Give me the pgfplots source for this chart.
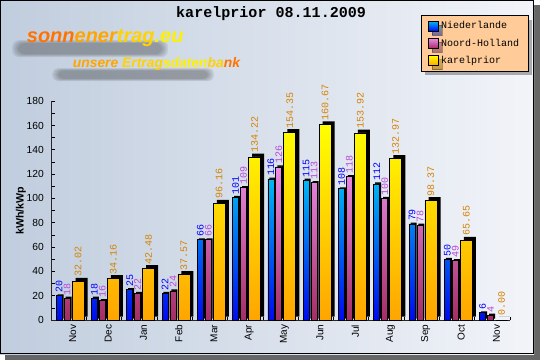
\documentclass[border=0pt]{standalone}
\usepackage{pgfplots}
\pgfplotsset{compat=1.18}
\usepackage{pgfplotstable}
\usepackage{fontspec}
\setmainfont{Liberation Sans}
\newfontfamily\monof{Liberation Mono}
\usetikzlibrary{shadows}

\definecolor{bgL}{RGB}{192,205,222}
\definecolor{bgR}{RGB}{242,244,249}
\definecolor{bluT}{RGB}{0,185,245}
\definecolor{bluB}{RGB}{0,10,240}
\definecolor{pnkT}{RGB}{235,140,230}
\definecolor{pnkB}{RGB}{165,45,100}
\definecolor{yelT}{RGB}{255,255,0}
\definecolor{yelB}{RGB}{255,165,0}
\definecolor{lblB}{RGB}{0,0,255}
\definecolor{lblP}{RGB}{185,70,220}
\definecolor{lblO}{RGB}{215,130,0}
\definecolor{peach}{RGB}{255,204,153}
\definecolor{lgO1}{RGB}{255,115,0}
\definecolor{lgO2}{RGB}{255,165,0}
\definecolor{lgO3}{RGB}{255,210,0}
\definecolor{lgO4}{RGB}{255,240,0}

\pgfplotstableread{
m nl nh kp
0 20 18 32.02
1 18 16 34.16
2 25 22 42.48
3 22 24 37.57
4 66 66 96.16
5 101 109 134.22
6 116 126 154.35
7 115 113 160.67
8 108 118 153.92
9 112 100 132.97
10 79 78 98.37
11 50 49 65.65
12 6 4 0.00
}\data

\begin{document}
\begin{tikzpicture}[x=0.75pt,y=0.75pt]
% frame and background
\fill[black!60] (5,0) rectangle (540,355);
\shade[left color=bgL,right color=bgR] (0,6) rectangle (534,360);
\draw[black,line width=0.9pt] (0.4,6.4) rectangle (533.6,359.6);
% title
\node[font=\monof\bfseries\fontsize{11.3}{12}\selectfont] at (271,347) {karelprior 08.11.2009};
% logo shadows (blurred smudges)
\foreach \e in {0,1.5,3,4.5,6}{
  \fill[black!80,opacity=0.09,rounded corners=5pt] (12+\e,303+\e*0.5) rectangle (168-\e,320-\e*0.5);
  \fill[black!80,opacity=0.09,rounded corners=4pt] (52+\e,279+\e*0.4) rectangle (214-\e,292-\e*0.4);
}
\node[anchor=west,font=\bfseries\itshape\fontsize{15}{15}\selectfont] at (22,322)
  {\textcolor{lgO1}{sonn}\textcolor{lgO2}{ener}\textcolor{lgO3}{trag}\textcolor{lgO4}{.eu}};
\node[anchor=west,font=\bfseries\itshape\fontsize{10.4}{11}\selectfont] at (68,296)
  {\textcolor{lgO2}{unsere} \textcolor{lgO3}{Ertrag}\textcolor{lgO4}{sdaten}\textcolor{lgO3}{ba}\textcolor{lgO1}{nk}};

\begin{axis}[
  at={(38.25pt,30pt)}, anchor=south west, scale only axis,
  width=344.25pt, height=164.25pt,
  ybar,
  xmin=-0.5, xmax=12.5, ymin=0, ymax=180,
  enlarge x limits=false, enlarge y limits=false,
  axis x line*=bottom, axis y line*=left,
  axis line style={-,line width=0.8pt,black!85},
  xtick={0,...,12},
  xticklabels={Nov,Dec,Jan,Feb,Mar,Apr,May,Jun,Jul,Aug,Sep,Oct,Nov},
  minor xtick={0.5,1.5,...,12.5},
  major x tick style={draw=none},
  ytick={0,20,...,180},
  minor y tick num=1,
  tick align=inside,
  major tick length=2.5pt, minor tick length=2.5pt,
  tick style={black,line width=0.6pt},
  xticklabel style={rotate=90,anchor=east,font=\fontsize{7.5}{8}\selectfont,yshift=-3pt},
  yticklabel style={font=\fontsize{7.7}{8}\selectfont,xshift=-2pt},
  /pgf/number format/assume math mode=true,
  ylabel={\bfseries kWh/kWp},
  ylabel style={at={(axis description cs:-0.066,0.5)},anchor=center,font=\fontsize{8}{9}\selectfont},
  legend style={at={(1.041,1.393)},anchor=north east,fill=peach,draw=black,line width=0.6pt,
    font=\monof\fontsize{7.5}{9}\selectfont,row sep=2pt,inner xsep=5pt,inner ysep=2.5pt,
    drop shadow={shadow xshift=3pt,shadow yshift=-3pt,fill=black,opacity=0.3}},
  legend cell align=left,
  legend image code/.code={\draw[#1,line width=0.6pt] (0pt,-3.7pt) rectangle (7.5pt,3.8pt);},
  every node near coord/.append style={rotate=90,anchor=west,inner sep=2pt,font=\monof\fontsize{7.5}{8}\selectfont},
]
% shadows
\addplot[bar width=0.17,bar shift=-0.275,fill=black,draw=none,xshift=1.1pt,yshift=1.1pt,forget plot] table[x=m,y=nl]{\data};
\addplot[bar width=0.17,bar shift=-0.05,fill=black,draw=none,xshift=1.1pt,yshift=1.1pt,forget plot] table[x=m,y=nh]{\data};
\addplot[bar width=0.34,bar shift=0.26,fill=black,draw=none,xshift=2.7pt,yshift=2.5pt,forget plot] table[x=m,y=kp]{\data};
% bars
\addplot[bar width=0.17,bar shift=-0.275,draw=black,line width=0.5pt,top color=bluT,bottom color=bluB,
  nodes near coords,every node near coord/.append style={text=lblB}] table[x=m,y=nl]{\data};
\addlegendentry{Niederlande}
\addplot[bar width=0.17,bar shift=-0.05,draw=black,line width=0.5pt,top color=pnkT,bottom color=pnkB,
  nodes near coords,every node near coord/.append style={text=lblP}] table[x=m,y=nh]{\data};
\addlegendentry{Noord-Holland}
\addplot[bar width=0.34,bar shift=0.26,draw=black,line width=0.5pt,top color=yelT,bottom color=yelB,
  nodes near coords={\pgfmathprintnumber[fixed,fixed zerofill,precision=2]{\pgfplotspointmeta}},
  every node near coord/.append style={text=lblO,inner sep=3pt}] table[x=m,y=kp]{\data};
\addlegendentry{karelprior}
\end{axis}
\end{tikzpicture}
\end{document}
